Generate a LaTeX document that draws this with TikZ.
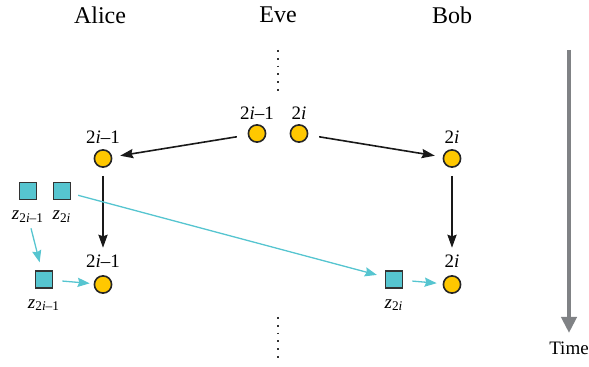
\documentclass[tikz,border=0pt]{standalone}
\usepackage{fontspec}
\setmainfont{Liberation Serif}
\usetikzlibrary{arrows.meta,positioning,calc}
\definecolor{qgold}{HTML}{FFC800}
\definecolor{qcyan}{HTML}{56C5D0}
\definecolor{qgray}{HTML}{808285}
\tikzset{
  photon/.style={draw=black!85,fill=qgold,circle,line width=0.8pt,inner sep=0pt,minimum size=8.6pt},
  keybox/.style={draw=black!80,fill=qcyan,rectangle,line width=0.8pt,inner sep=0pt,minimum size=8.6pt},
  tag/.style={inner sep=0pt,font=\fontsize{9.5}{11}\selectfont},
  party/.style={inner sep=0pt,font=\fontsize{12}{14}\selectfont},
  qarrow/.style={-{Stealth[length=6.5pt,width=4.6pt,inset=0.8pt]},line width=0.8pt,black!90},
  karrow/.style={-{Stealth[length=6pt,width=4.6pt,inset=0.8pt]},line width=0.65pt,qcyan},
  dots/.style={line width=0.7pt,dash pattern=on 0.9pt off 3pt,black!80},
}
\begin{document}
\begin{tikzpicture}[x=0.5pt,y=-0.5pt]
      \useasboundingbox (0,0) rectangle (589,367);

      \node[party] (alice) at (100,15) {Alice};
      \node[party] (eve) at (278,15) {Eve};
      \node[party] (bob) at (452,15) {Bob};

      % Eve's photons
      \node[photon] (e1) at (257,133.5) {};
      \node[photon] (e2) at (299,133.5) {};
      \node[tag,above=2pt of e1] (le1) {2\textit{i}--1};
      \node[tag,above=2pt of e2] (le2) {2\textit{i}};

      % Alice and Bob receive
      \node[photon] (a1) at (103,158.5) {};
      \node[photon] (b1) at (452,158.5) {};
      \node[tag,above=2.5pt of a1] (la1) {2\textit{i}--1};
      \node[tag,above=2.5pt of b1] (lb1) {2\textit{i}};

      \draw[qarrow,shorten <=5.5pt,shorten >=4pt] (e1)--(a1);
      \draw[qarrow,shorten <=5.5pt,shorten >=4pt] (e2)--(b1);

      \node[photon] (a2) at (103,284.5) {};
      \node[photon] (b2) at (452,284.5) {};
      \node[tag,above=3.5pt of a2] (la2) {2\textit{i}--1};
      \node[tag,above=3.5pt of b2] (lb2) {2\textit{i}};

      \draw[qarrow,shorten <=4pt,shorten >=3.5pt] (a1.south)--(a1 |- la2.north);
      \draw[qarrow,shorten <=4pt,shorten >=3.5pt] (b1.south)--(b1 |- lb2.north);

      % keys
      \node[keybox] (za1) at (28,191) {};
      \node[keybox] (za2) at (62,191) {};
      \node[tag,below=5pt of za1] (lza1) {\textit{z}\textsubscript{2\textit{i}--1}};
      \node[tag,below=5pt of za2] (lza2) {\textit{z}\textsubscript{2\textit{i}}};

      \node[keybox] (za3) at (44,279.5) {};
      \node[tag,below=5pt of za3] (lza3) {\textit{z}\textsubscript{2\textit{i}--1}};
      \node[keybox] (zb) at (394,279.5) {};
      \node[tag,below=5pt of zb] (lzb) {\textit{z}\textsubscript{2\textit{i}}};

      \draw[karrow,shorten <=3pt,shorten >=4pt] (lza1)--(za3);
      \draw[karrow,shorten <=4.5pt,shorten >=2pt] (za3)--(a2);
      \draw[karrow,shorten <=3.5pt,shorten >=4pt] (za2)--(zb);
      \draw[karrow,shorten <=4.5pt,shorten >=3pt] (zb)--(b2);

      % dots on Eve's line
      \draw[dots] (278,50)--(278,93);
      \draw[dots] (278,317)--(278,359);

      % time axis
      \coordinate (t0) at (569,50);
      \coordinate (t1) at (569,333);
      \draw[-{Triangle[length=8pt,width=7.5pt]},line width=2pt,qgray] (t0)--(t1);
      \node[tag,below=4.5pt of t1] (time) {Time};
\end{tikzpicture}
\end{document}
